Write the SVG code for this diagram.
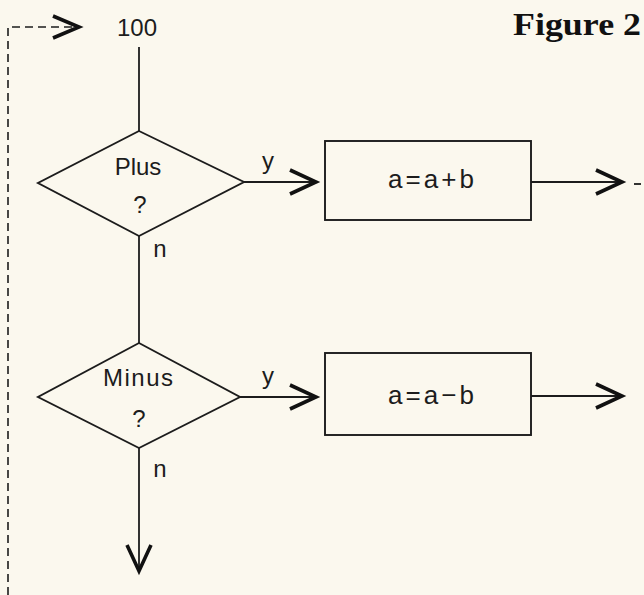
<svg xmlns="http://www.w3.org/2000/svg" width="644" height="595" viewBox="0 0 644 595">
<style>
.ln{stroke:#1c1c1c;stroke-width:1.8;fill:none}
.shape{stroke:#1c1c1c;stroke-width:1.9;fill:none}
.chev{stroke:#111;stroke-width:3.6;fill:none;stroke-linejoin:miter;stroke-linecap:butt}
.dash{stroke:#1c1c1c;stroke-width:1.6;fill:none;stroke-dasharray:8 5}
.t{font-family:"Liberation Sans",Arial,sans-serif;font-size:24px;fill:#1c1c1c;text-anchor:middle}
.big{font-size:26px}
.title{font-family:"Liberation Serif","Times New Roman",serif;font-size:32px;font-weight:bold;fill:#111}
</style>
<rect width="644" height="595" fill="#fbf8ee"/>
<text class="title" x="513" y="35" textLength="128" lengthAdjust="spacingAndGlyphs">Figure 2</text>
<g id="connectors">
<path class="dash" d="M8,595 V27 H72"/>
<path class="chev" d="M53,16 L79,27 L53,38"/>
<text class="t" x="137" y="36">100</text>
<path class="ln" d="M139,47 V131"/>
<path class="ln" d="M244,182 H315"/>
<path class="chev" d="M290,170 L316,182 L290,194"/>
<text class="t" x="268" y="169">y</text>
<path class="ln" d="M139,236 V343"/>
<text class="t" x="160" y="257">n</text>
<path class="ln" d="M531,182 H621"/>
<path class="chev" d="M596,170 L622,182 L596,194"/>
<path class="ln" d="M634,184 H641"/>
<path class="ln" d="M240,397 H315"/>
<path class="chev" d="M290,385 L316,397 L290,409"/>
<text class="t" x="268" y="384">y</text>
<path class="ln" d="M139,448 V570"/>
<path class="chev" d="M127,545 L139,571 L151,545"/>
<text class="t" x="160" y="477">n</text>
<path class="ln" d="M531,396 H621"/>
<path class="chev" d="M596,384 L622,396 L596,408"/>
</g>
<g id="plus">
<polygon class="shape" points="139,131 244,182 139,236 38,183"/>
<text class="t" x="138" y="175">Plus</text>
<text class="t" x="140" y="213">?</text>
</g>
<g id="minus">
<polygon class="shape" points="139,343 240,397 139,448 38,397"/>
<text class="t" x="138" y="386" textLength="70">Minus</text>
<text class="t" x="139" y="427">?</text>
</g>
<g id="add">
<rect class="shape" x="325" y="141" width="206" height="79"/>
<text class="t big" x="431" y="188" textLength="86">a=a+b</text>
</g>
<g id="sub">
<rect class="shape" x="325" y="353" width="206" height="82"/>
<text class="t big" x="431" y="404" textLength="86">a=a−b</text>
</g>
</svg>
